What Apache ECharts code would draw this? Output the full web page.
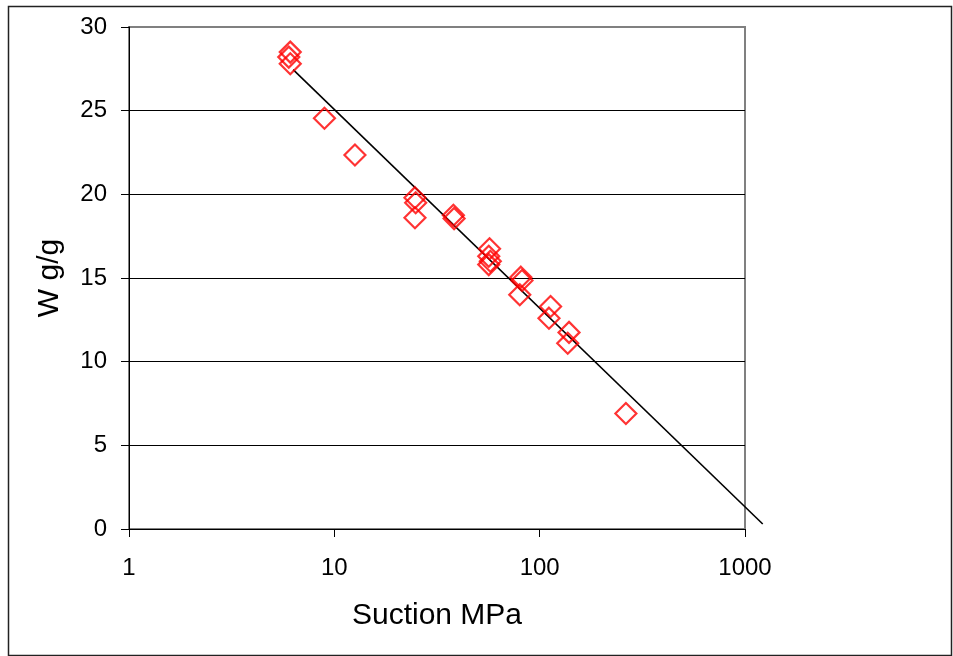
<!DOCTYPE html>
<html>
<head>
<meta charset="utf-8">
<script src="https://cdn.jsdelivr.net/npm/echarts@6/dist/echarts.min.js"></script>
<style>
html,body{margin:0;padding:0;background:#fff;}
#c{width:953px;height:656px;}
</style>
</head>
<body>
<div id="c"></div>
<script>
// Measured points: suction (MPa) and water content W (g/g)
const suction = [6.1, 6.0, 6.1, 8.95, 12.6, 24.7, 24.9, 24.7, 38.0, 38.3, 57.0, 56.5, 57.5, 56.5, 81.0, 82.0, 80.0, 113.0, 111.0, 139.0, 137.0, 263.0];
const water   = [28.5, 28.2, 27.8, 24.55, 22.35, 19.8, 19.5, 18.6, 18.75, 18.55, 16.75, 16.3, 16.0, 15.8, 15.05, 14.85, 14.0, 13.3, 12.6, 11.75, 11.1, 6.9];
// Trend line end points
const trendX = [6.3, 1220];
const trendY = [27.45, 0.3];
const yTicks = [0, 5, 10, 15, 20, 25, 30];
const xTicks = [1, 10, 100, 1000];

const font = '"Liberation Sans", Arial, sans-serif';
const chart = echarts.init(document.getElementById('c'), null, {renderer: 'canvas'});
const pts = suction.map((s, i) => [s, water[i]]);
const trend = trendX.map((s, i) => [s, trendY[i]]);

// Plot geometry
const L = 129, T = 27, W = 616, H = 502;
const xMin = xTicks[0], xMax = xTicks[xTicks.length - 1];
const decadePx = W / (Math.log10(xMax) - Math.log10(xMin));
const trendMax = Math.max(...trendX);
// Second (invisible) grid sharing the same log scale but extended to reach the trend end
const W2 = decadePx * (Math.log10(trendMax) - Math.log10(xMin));

chart.setOption({
  animation: false,
  backgroundColor: '#fff',
  graphic: [{
    type: 'rect', left: 6, top: 4, shape: {width: 943, height: 649},
    style: {fill: 'none', stroke: '#222', lineWidth: 1.5}, silent: true, z: -1
  }],
  grid: [
    {left: L, top: T, width: W, height: H,
     show: true, borderColor: '#808080', borderWidth: 2, backgroundColor: '#fff'},
    {left: L, top: T, width: W2, height: H, show: false}
  ],
  xAxis: [{
    gridIndex: 0,
    type: 'log', logBase: 10, min: xMin, max: xMax,
    name: 'Suction MPa', nameLocation: 'middle', nameGap: 72,
    nameTextStyle: {fontFamily: font, fontSize: 30, color: '#000'},
    axisLine: {show: true, onZero: false, lineStyle: {color: '#000', width: 1}},
    axisTick: {show: true, inside: false, length: 8, lineStyle: {color: '#000', width: 1}},
    minorTick: {show: false},
    axisLabel: {fontFamily: font, fontSize: 24, color: '#000', margin: 27,
      formatter: v => String(Math.round(v))},
    splitLine: {show: false}
  }, {
    gridIndex: 1,
    type: 'log', logBase: 10, min: xMin, max: trendMax, show: false
  }],
  yAxis: [{
    gridIndex: 0,
    type: 'value', min: yTicks[0], max: yTicks[yTicks.length - 1], interval: 5,
    name: 'W g/g', nameLocation: 'middle', nameGap: 64, nameRotate: 90,
    nameTextStyle: {fontFamily: font, fontSize: 30, color: '#000'},
    axisLine: {show: true, lineStyle: {color: '#000', width: 1}},
    axisTick: {show: true, inside: false, length: 8, lineStyle: {color: '#000', width: 1}},
    axisLabel: {fontFamily: font, fontSize: 24, color: '#000', margin: 22},
    splitLine: {show: true, showMaxLine: false, lineStyle: {color: '#000', width: 1}}
  }, {
    gridIndex: 1,
    type: 'value', min: yTicks[0], max: yTicks[yTicks.length - 1], show: false
  }],
  series: [
    {
      type: 'line', xAxisIndex: 1, yAxisIndex: 1, data: trend,
      showSymbol: false, symbol: 'none', clip: false,
      lineStyle: {color: '#000', width: 1.6}, z: 3
    },
    {
      type: 'scatter', xAxisIndex: 0, yAxisIndex: 0, data: pts,
      symbol: 'diamond', symbolSize: 21,
      itemStyle: {color: 'rgba(0,0,0,0)', borderColor: '#ff0000', borderWidth: 2.2},
      z: 4
    }
  ]
});
</script>
</body>
</html>
